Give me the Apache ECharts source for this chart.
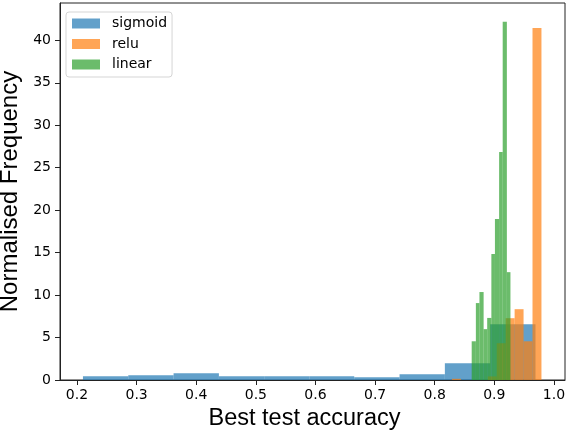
<!DOCTYPE html>
<html>
<head>
<meta charset="utf-8">
<script src="https://cdn.jsdelivr.net/npm/echarts@6/dist/echarts.min.js"></script>
<style>html,body{margin:0;padding:0;background:#fff}#c{width:566px;height:432px}</style>
</head>
<body>
<div id="c"></div>
<script>
// Bin edges and normalised heights
var sigmoidEdges = [0.210, 0.286, 0.362, 0.438, 0.514, 0.590, 0.665, 0.741, 0.817, 0.893, 0.969];
var sigmoidHeights = [0.44, 0.55, 0.79, 0.44, 0.44, 0.44, 0.33, 0.67, 1.97, 6.57];
var reluEdges = [0.829, 0.844, 0.859, 0.874, 0.889, 0.904, 0.919, 0.934, 0.949, 0.964, 0.979];
var reluHeights = [0.14, 0, 0, 0, 0.42, 4.33, 7.28, 8.34, 4.56, 41.47];
var linearEdges = [0.862, 0.869, 0.875, 0.882, 0.888, 0.895, 0.901, 0.908, 0.914, 0.921, 0.927];
var linearHeights = [4.56, 9.06, 10.36, 5.99, 7.31, 14.84, 18.97, 26.85, 42.18, 12.7];
var seriesNames = ['sigmoid', 'relu', 'linear'];
var seriesColors = ['#1f77b4', '#ff7f0e', '#2ca02c'];
var xTicks = [0.2, 0.3, 0.4, 0.5, 0.6, 0.7, 0.8, 0.9, 1.0];
var yTicks = [0, 5, 10, 15, 20, 25, 30, 35, 40];

function bins(edges, heights) {
  var out = [];
  for (var i = 0; i < heights.length; i++) out.push([edges[i], edges[i + 1], heights[i]]);
  return out;
}
function renderItem(params, api) {
  var x0 = api.value(0), x1 = api.value(1), h = api.value(2);
  var p0 = api.coord([x0, h]);
  var p1 = api.coord([x1, 0]);
  return {
    type: 'rect',
    shape: { x: p0[0], y: p0[1], width: p1[0] - p0[0], height: p1[1] - p0[1] },
    style: { fill: api.visual('color'), opacity: 0.7 }
  };
}
var allData = [bins(sigmoidEdges, sigmoidHeights), bins(reluEdges, reluHeights), bins(linearEdges, linearHeights)];
var series = seriesNames.map(function (n, i) {
  return {
    name: n, type: 'custom', renderItem: renderItem, data: allData[i],
    encode: { x: [0, 1], y: 2 }, itemStyle: { color: seriesColors[i], opacity: 0.7 },
    clip: true, animation: false
  };
});

var chart = echarts.init(document.getElementById('c'), null, { renderer: 'canvas' });
chart.setOption({
  animation: false,
  backgroundColor: '#fff',
  grid: { left: 60, right: 1, top: 3, bottom: 52, outerBoundsMode: 'none', containLabel: false,
    show: true, borderColor: '#222', borderWidth: 1, backgroundColor: 'transparent' },
  legend: {
    left: 66, top: 12, orient: 'vertical',
    data: seriesNames.map(function (n) { return { name: n, itemStyle: { opacity: 0.7 } }; }),
    icon: 'rect', itemWidth: 28, itemHeight: 10, itemGap: 4.5,
    padding: [3.5, 5, 4.5, 6],
    borderColor: '#d5d5d5', borderWidth: 1, borderRadius: 3, backgroundColor: 'rgba(255,255,255,0.8)',
    textStyle: { fontFamily: 'DejaVu Sans', fontSize: 14, lineHeight: 16, color: '#000', padding: [0, 0, 0, 7] }
  },
  xAxis: {
    type: 'value', min: 0.1715, max: 1.0185,
    name: 'Best test accuracy', nameLocation: 'middle', nameGap: 26,
    nameTextStyle: { fontFamily: 'Liberation Sans', fontSize: 23.5, color: '#000', padding: [0, 16, 0, 0] },
    axisLine: { show: true, lineStyle: { color: '#222', width: 1 } },
    axisTick: { show: true, length: 5, lineStyle: { color: '#222' }, customValues: xTicks },
    axisLabel: { customValues: xTicks, margin: 8, fontFamily: 'DejaVu Sans', fontSize: 14, color: '#000',
      formatter: function (v) { return v.toFixed(1); } },
    splitLine: { show: false }
  },
  yAxis: {
    type: 'value', min: 0, max: 44.4,
    name: 'Normalised Frequency', nameLocation: 'middle', nameGap: 31, nameRotate: 90,
    nameTextStyle: { fontFamily: 'Liberation Sans', fontSize: 24, color: '#000' },
    axisLine: { show: true, lineStyle: { color: '#222', width: 1 } },
    axisTick: { show: true, length: 5, lineStyle: { color: '#222' }, customValues: yTicks },
    axisLabel: { customValues: yTicks, margin: 9, fontFamily: 'DejaVu Sans', fontSize: 14, color: '#000' },
    splitLine: { show: false }
  },
  series: series
});
</script>
</body>
</html>
